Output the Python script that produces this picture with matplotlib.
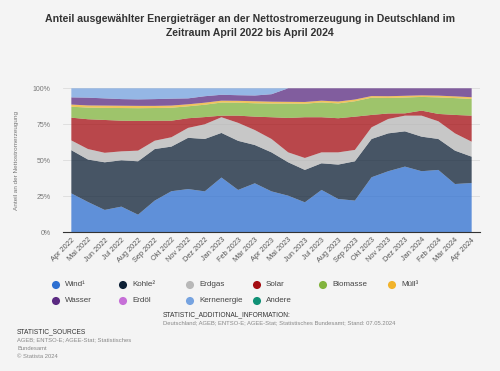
import numpy as np
import matplotlib
matplotlib.use("Agg")
import matplotlib.pyplot as plt

plt.rcParams['font.family'] = ['Liberation Sans', 'DejaVu Sans']

months = ["Apr 2022", "Mai 2022", "Jun 2022", "Jul 2022", "Aug 2022", "Sep 2022",
          "Okt 2022", "Nov 2022", "Dez 2022", "Jan 2023", "Feb 2023", "Mär 2023",
          "Apr 2023", "Mai 2023", "Jun 2023", "Jul 2023", "Aug 2023", "Sep 2023",
          "Okt 2023", "Nov 2023", "Dez 2023", "Jan 2024", "Feb 2024", "Mär 2024",
          "Apr 2024"]

# shares in percent
wind = [27, 21, 15.5, 17.8, 12.2, 22, 28.5, 30, 28.4, 38, 29.4, 34, 28.4,
        25.4, 20.8, 29.4, 23.1, 22, 38.2, 42.4, 45.6, 42.4, 43.3, 33.5, 34.2]
kohle = [30, 29.5, 33.1, 32.2, 37.1, 35.8, 31, 35.6, 36.4, 31, 34.1, 26.6, 27.1,
         23.2, 22.5, 18.5, 23.9, 27.3, 26.6, 26.3, 24.5, 24, 21.5, 23.2, 18.3]
erdgas = [6.8, 7.3, 6.6, 6.2, 7.4, 5.8, 6.5, 6.9, 10.2, 10.9, 12.5, 10.4, 9.3,
          6.9, 8.3, 7.6, 8.5, 7.9, 8.1, 10, 10.9, 14.6, 12.3, 12, 10.4]
solar = [15.8, 20.7, 22.8, 21.3, 20.6, 13.9, 11.5, 6.7, 5, 1.1, 5, 9.3, 15.1,
         23.9, 28.3, 24.4, 23.7, 23.1, 8.6, 3.8, 1.6, 3.5, 5.1, 12.8, 18.1]
biomasse = [7.6, 8.1, 8.4, 8.8, 8.9, 8.8, 9, 8.3, 8.6, 9.1, 9, 9.3, 9.5,
            10, 9.4, 10.3, 10.3, 10.7, 12, 10.8, 11, 9.5, 11.5, 11.7, 11.6]
muell = [1.5, 1.5, 1.6, 1.6, 1.6, 1.5, 1.5, 1.4, 1.4, 1.3, 1.3, 1.4, 1.3,
         1.2, 1.2, 1.2, 1.3, 1.2, 1.1, 1.2, 1.2, 1.1, 1.2, 1.2, 1.2]
wasser = [5, 5.4, 5, 4.6, 4.5, 4.7, 4.8, 4.1, 4.5, 4.1, 3.9, 4, 5.2,
          9.4, 9.5, 8.6, 9.2, 7.8, 5.4, 5.5, 5.2, 4.9, 5.1, 5.6, 6.2]
erdoel = [0] * 25
kernenergie = [6.3, 6.5, 7, 7.5, 7.7, 7.5, 7.2, 7, 5.5, 4.5, 4.8, 5, 4.1,
               0, 0, 0, 0, 0, 0, 0, 0, 0, 0, 0, 0]
andere = [0] * 25

labels = ["Wind¹", "Kohle²", "Erdgas", "Solar", "Biomasse", "Müll³",
          "Wasser", "Erdöl", "Kernenergie", "Andere"]
colors = ["#2d6fd1", "#0d2035", "#b8b8b8", "#a50d12", "#82b43d", "#f1b32b",
          "#5b2a82", "#c66fd7", "#76a3e0", "#119176"]
series = [wind, kohle, erdgas, solar, biomasse, muell, wasser, erdoel, kernenergie, andere]

bg = "#f4f4f4"
fig = plt.figure(figsize=(5, 3.71), dpi=100, facecolor=bg)
ax = fig.add_axes([0.126, 0.374, 0.834, 0.388], facecolor=bg)

x = np.arange(len(months))
ax.stackplot(x, *series, colors=colors, alpha=0.75, linewidth=0, zorder=2)

ax.set_xlim(-0.5, len(months) - 0.5)
ax.set_ylim(0, 100)
ax.set_yticks([0, 25, 50, 75, 100])
ax.set_yticklabels(["0%", "25%", "50%", "75%", "100%"])
ax.grid(axis='y', color="#dcdcdc", linewidth=0.6, zorder=0)
ax.set_axisbelow(True)
ax.set_xticks(x)
ax.set_xticklabels(months, rotation=45, ha='right', rotation_mode='anchor')
ax.tick_params(axis='x', length=0, labelsize=5.3, colors="#555555", pad=3)
ax.tick_params(axis='y', length=0, labelsize=5, colors="#777777", pad=9)
for s in ['top', 'right', 'left']:
    ax.spines[s].set_visible(False)
ax.spines['bottom'].set_color("#333333")
ax.spines['bottom'].set_linewidth(0.8)
ax.set_ylabel("Anteil an der Nettostromerzeugung", fontsize=4.6, color="#777777", labelpad=10)

fig.text(0.5, 0.962, "Anteil ausgewählter Energieträger an der Nettostromerzeugung in Deutschland im\nZeitraum April 2022 bis April 2024",
         ha='center', va='top', fontsize=7.6, fontweight='bold', color="#333333", linespacing=1.45)

# legend
lax = fig.add_axes([0, 0, 1, 1], facecolor='none')
lax.set_xlim(0, 500)
lax.set_ylim(371, 0)
lax.axis('off')
col_x = [56, 123, 190, 257, 323, 392]
row_y = [285, 301]
for k, (lab, c) in enumerate(zip(labels, colors)):
    cx = col_x[k % 6]
    cy = row_y[k // 6]
    lax.scatter([cx], [cy], s=34, color=c, edgecolors='none')
    lax.text(cx + 9, cy, lab, fontsize=5.8, color="#444444", va='center', ha='left')

lax.text(163, 315, "STATISTIC_ADDITIONAL_INFORMATION:", fontsize=4.8, color="#333333", va='center')
lax.text(163, 323, "Deutschland; AGEB; ENTSO-E; AGEE-Stat; Statistisches Bundesamt; Stand: 07.05.2024",
         fontsize=4.2, color="#888888", va='center')
lax.text(17, 332, "STATISTIC_SOURCES", fontsize=4.8, color="#333333", va='center')
lax.text(17, 340, "AGEB; ENTSO-E; AGEE-Stat; Statistisches", fontsize=4.2, color="#888888", va='center')
lax.text(17, 348, "Bundesamt", fontsize=4.2, color="#888888", va='center')
lax.text(17, 356, "© Statista 2024", fontsize=4.2, color="#888888", va='center')

fig.savefig("out.png", dpi=100, facecolor=bg)
